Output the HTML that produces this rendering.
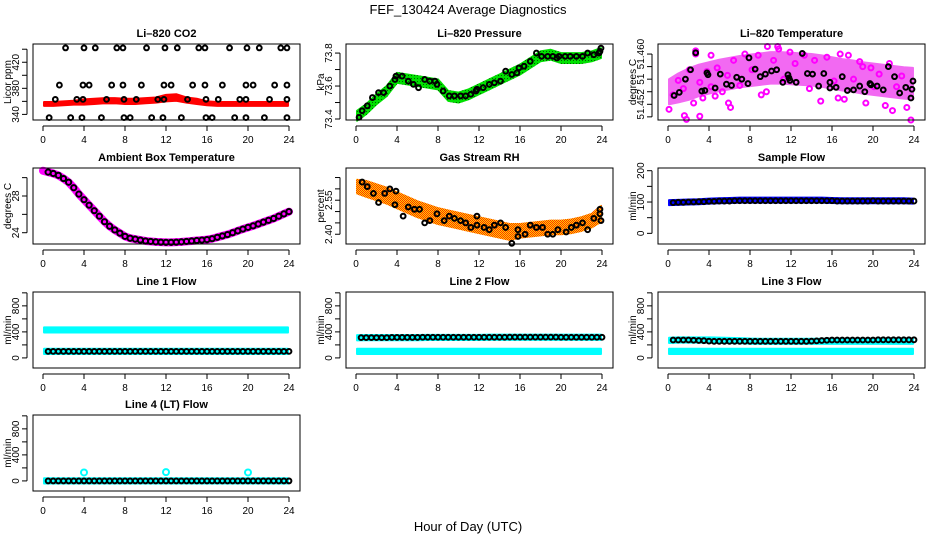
<!DOCTYPE html>
<html><head><meta charset="utf-8">
<style>
html,body{margin:0;padding:0;background:#fff;}
svg{display:block;font-family:"Liberation Sans",sans-serif;}
</style></head>
<body>
<svg id="chart" width="936" height="540" viewBox="0 0 936 540" xmlns="http://www.w3.org/2000/svg">
<defs>
<pattern id="rhPat" width="2" height="2" patternUnits="userSpaceOnUse"><rect width="2" height="2" fill="#ffd000"/><rect width="1" height="1" fill="#ff3000"/><rect x="1" y="1" width="1" height="1" fill="#ff3000"/></pattern>
<pattern id="grPat" width="3" height="3" patternUnits="userSpaceOnUse"><rect width="3" height="3" fill="#00e000"/><rect width="1" height="1" fill="#006000"/></pattern>
</defs>
<text x="468" y="14" text-anchor="middle" font-size="13">FEF_130424  Average Diagnostics</text>
<text x="468" y="531" text-anchor="middle" font-size="13">Hour of Day (UTC)</text>
</svg>
<script>
// ---------- data ----------
const xTicks=[0,4,8,12,16,20,24];
const hourGrid=[0,1,2,3,4,5,6,7,8,9,10,11,12,13,14,15,16,17,18,19,20,21,22,23,24];
const halfHours=[0,0.5,1,1.5,2,2.5,3,3.5,4,4.5,5,5.5,6,6.5,7,7.5,8,8.5,9,9.5,10,10.5,11,11.5,12,12.5,13,13.5,14,14.5,15,15.5,16,16.5,17,17.5,18,18.5,19,19.5,20,20.5,21,21.5,22,22.5,23,23.5,24];

const co2BandCenter=[356,356,357,358,359,360,361,361,360,360,361,362,365,366,362,360,357,356,356,356,356,356,356,356,356];
const co2BandHalf=[3,3,3,3,4,4,4,4,4,4,4,4,5,5,4,4,3,3,3,3,3,3,3,3,3];
const co2Hours=[2.2,4,5.1,7.2,7.8,10.1,11.9,13.1,15.2,15.8,18.2,19.9,21.1,23.2,23.8,1.6,3.9,4.5,6.7,7.8,9.6,11.8,12.5,14.6,15.8,17.5,19.8,20.5,22.6,23.8,1.2,3.3,3.9,6.2,7.9,9.1,11.2,11.8,14.1,15.9,17.1,19.2,19.8,22.1,23.8,0.6,2.7,3.8,5.7,7.9,8.5,10.6,11.7,13.5,15.9,16.5,18.7,19.8,21.6,23.8];
const co2Vals=[442,442,442,442,442,442,442,442,442,442,442,442,442,442,442,385,385,385,385,385,385,385,385,385,385,385,385,385,385,385,363,363,363,363,363,363,363,363,363,363,363,363,363,363,363,335,335,335,335,335,335,335,335,335,335,335,335,335,335,335];

const presCenter=[73.42,73.46,73.52,73.57,73.65,73.64,73.63,73.62,73.61,73.54,73.53,73.55,73.58,73.61,73.64,73.67,73.70,73.74,73.78,73.79,73.77,73.77,73.77,73.78,73.80];
const presHours=[0.3,0.6,1.1,1.6,2.2,2.7,3.3,3.8,3.9,4.5,5.1,5.6,6.1,6.7,7.2,7.7,7.9,8.5,9.1,9.6,10.2,10.7,11.2,11.7,11.8,12.4,13,13.5,14.1,14.6,15.2,15.7,15.9,16.4,17,17.6,18.1,18.7,19.2,19.6,19.8,20.4,20.9,21.5,22.1,22.6,23.2,23.7,23.8,23.9];
const presVals=[73.41,73.45,73.48,73.53,73.56,73.56,73.60,73.64,73.66,73.66,73.63,73.61,73.59,73.64,73.63,73.63,73.61,73.57,73.54,73.54,73.54,73.54,73.55,73.57,73.58,73.59,73.61,73.62,73.63,73.69,73.67,73.68,73.71,73.72,73.75,73.80,73.78,73.78,73.78,73.77,73.78,73.78,73.78,73.78,73.78,73.80,73.79,73.80,73.81,73.83];

const tempBandCenter=[51.4540,51.4546,51.4552,51.4558,51.4562,51.4566,51.4569,51.4572,51.4574,51.4576,51.4578,51.4578,51.4577,51.4576,51.4575,51.4573,51.4570,51.4567,51.4565,51.4562,51.4560,51.4558,51.4556,51.4554,51.4553];
const tempBandHalf=[0.002,0.0023,0.0025,0.0025,0.0025,0.0025,0.0025,0.0025,0.0025,0.0025,0.0025,0.0025,0.0025,0.0025,0.0025,0.0025,0.0025,0.0025,0.0025,0.0025,0.0025,0.0025,0.0025,0.0025,0.0025];
const tempMagHours=[0.1,0.5,1.0,1.5,1.6,2.1,2.5,2.7,3.1,3.4,3.8,4.2,4.6,4.8,5.3,5.8,6.1,6.4,7.0,7.5,8.2,8.8,9.1,9.7,10.3,10.8,11.3,11.9,12.4,13.3,13.8,14.3,14.9,15.5,16.2,16.8,17.2,17.6,18.1,18.7,19.3,19.8,20.1,20.6,21.2,21.6,22.3,22.8,23.3,23.7,2.7,4.2,9.6,10.7,16.6,1.8,3.1,5.9,19.0,21.9];
const tempMagVals=[51.4512,51.4535,51.4558,51.4545,51.4502,51.4575,51.4522,51.4600,51.4555,51.4530,51.4572,51.4598,51.4533,51.4578,51.4540,51.4566,51.4515,51.4590,51.4550,51.4600,51.4575,51.4598,51.4535,51.4612,51.4590,51.4608,51.4560,51.4603,51.4585,51.4598,51.4545,51.4590,51.4525,51.4595,51.4557,51.4600,51.4528,51.4598,51.4560,51.4588,51.4522,51.4578,51.4548,51.4568,51.4518,51.4585,51.4548,51.4565,51.4515,51.4495,51.4605,51.4548,51.4540,51.4612,51.4530,51.4496,51.4501,51.4522,51.4580,51.4510];
const tempBlkHours=[0.6,1.1,1.7,2.2,2.7,3.3,3.6,3.8,3.9,4.6,5.1,5.7,6.2,6.7,7.2,7.8,7.9,8.5,9.0,9.5,10.1,10.6,11.2,11.7,11.8,11.9,12.5,13.1,13.6,14.1,14.7,15.2,15.8,15.8,16.4,17.0,17.5,18.1,18.7,19.2,19.7,19.8,20.4,21.0,21.5,22.1,22.6,23.2,23.7,23.8,23.9];
const tempBlkVals=[51.4534,51.4539,51.4560,51.4575,51.4602,51.4541,51.4542,51.4570,51.4567,51.4546,51.4568,51.4552,51.4550,51.4563,51.4560,51.4553,51.4594,51.4576,51.4564,51.4568,51.4573,51.4575,51.4555,51.4567,51.4562,51.4558,51.4555,51.4601,51.4569,51.4568,51.4549,51.4569,51.4546,51.4555,51.4547,51.4564,51.4542,51.4543,51.4549,51.4540,51.4553,51.4551,51.4549,51.4543,51.4580,51.4564,51.4538,51.4547,51.4530,51.4544,51.4557];

const ambientVals=[30.75,30.6,30.45,30.25,29.9,29.5,28.9,28.2,27.6,27.0,26.4,25.8,25.2,24.7,24.3,23.95,23.6,23.4,23.3,23.2,23.1,23.05,23.0,22.97,22.95,22.95,22.97,23.0,23.05,23.1,23.15,23.2,23.25,23.35,23.5,23.65,23.8,24.0,24.2,24.4,24.58,24.75,24.95,25.15,25.35,25.55,25.8,26.05,26.3];

const rhBandCenter=[2.61,2.60,2.585,2.57,2.55,2.53,2.51,2.495,2.48,2.47,2.46,2.45,2.44,2.43,2.42,2.41,2.415,2.42,2.425,2.43,2.43,2.435,2.445,2.46,2.49];
const rhBandHalf=[0.03,0.035,0.035,0.035,0.035,0.035,0.035,0.035,0.035,0.035,0.035,0.035,0.035,0.035,0.035,0.035,0.03,0.03,0.03,0.03,0.03,0.03,0.03,0.03,0.035];
const rhHours=[0.6,1.1,1.7,2.2,2.8,3.3,3.9,3.8,4.6,5.1,5.7,6.2,6.7,7.2,7.9,8.6,9.1,9.6,10.2,10.7,11.2,11.8,11.8,12.5,13.0,13.5,14.1,14.6,15.2,15.8,15.8,16.5,17.0,17.6,18.2,18.7,19.2,19.7,20.5,21.0,21.5,22.1,22.6,23.2,23.8,23.8,23.9];
const rhVals=[2.63,2.61,2.58,2.54,2.58,2.60,2.59,2.53,2.48,2.52,2.51,2.51,2.45,2.46,2.49,2.46,2.48,2.47,2.46,2.45,2.43,2.44,2.48,2.43,2.42,2.44,2.45,2.43,2.36,2.39,2.42,2.40,2.44,2.43,2.43,2.40,2.40,2.42,2.41,2.43,2.44,2.45,2.42,2.47,2.49,2.51,2.46];

const sampleBand=[98,99,100,101,103,104,105,106,106,106,106,106,106,106,106,106,105,104,104,104,104,104,104,104,103];
const sampleVals=[97,98,99,99,100,100,101,101,102,102,103,103,103,104,104,104,104,104,104,104,104,104,104,104,104,104,104,104,104,104,104,104,104,103,103,103,103,103,103,103,104,103,103,103,103,103,103,103,103];

const line1Cyan=[430,430,430,430,430,430,430,430,430,430,430,430,430,430,430,430,430,430,430,430,430,430,430,430,430];
const line1Black=[100,100,100,100,100,100,100,100,100,100,100,100,100,100,100,100,100,100,100,100,100,100,100,100,100,100,100,100,100,100,100,100,100,100,100,100,100,100,100,100,100,100,100,100,100,100,100,100,100];
const line2Cyan=[100,100,100,100,100,100,100,100,100,100,100,100,100,100,100,100,100,100,100,100,100,100,100,100,100];
const line2Black=[310,312,312,312,312,312,312,315,315,315,315,315,315,318,318,318,318,318,318,318,318,318,318,318,318,318,318,318,318,318,320,320,320,320,320,320,320,320,320,320,318,318,318,318,318,318,318,318,318];
const line3Cyan=[100,100,100,100,100,100,100,100,100,100,100,100,100,100,100,100,100,100,100,100,100,100,100,100,100];
const line3Black=[270,275,275,275,275,272,268,265,258,255,255,255,255,255,255,255,255,255,255,255,255,255,255,255,255,255,255,255,258,262,268,272,275,275,275,275,275,275,275,275,275,278,278,278,278,278,278,278,278];
const line4Cyan=[0,0,0,0,0,0,0,0,0,0,0,0,0,0,0,0,0,0,0,0,0,0,0,0,0];
const line4Black=[0,0,0,0,0,0,0,0,0,0,0,0,0,0,0,0,0,0,0,0,0,0,0,0,0,0,0,0,0,0,0,0,0,0,0,0,0,0,0,0,0,0,0,0,0,0,0,0,0];
const line4SpikeHours=[4,12,20];
const line4SpikeVals=[130,135,130];

// ---------- drawing ----------
const svg=document.getElementById('chart');
const NS='http://www.w3.org/2000/svg';
function mk(tag,attrs,parent){const e=document.createElementNS(NS,tag);for(const k in attrs)e.setAttribute(k,attrs[k]);(parent||svg).appendChild(e);return e;}

const colX=[33,346,658], rowY=[44,168,292,415], W=267, H=76;

function makePanel(col,row,title,ylab,lo,hi,ticks,labels,name){
  const x0=colX[col],y0=rowY[row];
  const g=mk('g',{});
  
  
  const sx=h=>x0+10+h*(246/24);
  const sy=v=>y0+H-(v-lo)/(hi-lo)*H;
  const plot=mk('g',{},g);
  
  
  const box=mk('rect',{x:x0,y:y0,width:W,height:H,fill:'none',stroke:'#000','stroke-width':1},g);
  
  
  const t=mk('text',{x:x0+W/2,y:y0-7,'text-anchor':'middle','font-size':11,'font-weight':'bold'},g);
  t.textContent=title;
  
  
  const yl=mk('text',{x:0,y:0,'text-anchor':'middle','font-size':10,transform:`translate(${x0-22},${y0+H/2}) rotate(-90)`},g);
  yl.textContent=ylab;
  
  
  const xa=mk('g',{},g);
  
  
  mk('line',{x1:sx(xTicks[0]),x2:sx(xTicks[xTicks.length-1]),y1:y0+H+6,y2:y0+H+6,stroke:'#000'},xa);
  xTicks.forEach(v=>{
    mk('line',{x1:sx(v),x2:sx(v),y1:y0+H+6,y2:y0+H+11,stroke:'#000'},xa);
    const tl=mk('text',{x:sx(v),y:y0+H+23,'text-anchor':'middle','font-size':10},xa);
    tl.textContent=v;
    
    
  });
  const ya=mk('g',{},g);
  
  
  mk('line',{x1:x0-6,x2:x0-6,y1:sy(ticks[0]),y2:sy(ticks[ticks.length-1]),stroke:'#000'},ya);
  ticks.forEach((v,i)=>{
    mk('line',{x1:x0-6,x2:x0-11,y1:sy(v),y2:sy(v),stroke:'#000'},ya);
    if(labels[i]){
      const tl=mk('text',{x:0,y:0,'text-anchor':'middle','font-size':10,transform:`translate(${x0-14},${sy(v)}) rotate(-90)`},ya);
      tl.textContent=labels[i];
      
      
    }
  });
  return {plot,sx,sy,name};
}
function band(p,hours,center,half,fill,nm,op){
  let top=hours.map((h,i)=>p.sx(h)+','+p.sy(center[i]+half[i]));
  let bot=hours.map((h,i)=>p.sx(h)+','+p.sy(center[i]-half[i])).reverse();
  const e=mk('polygon',{points:top.concat(bot).join(' '),fill:fill,stroke:fill,'stroke-width':2,'stroke-linejoin':'round','opacity':op||1},p.plot);
  
  
}
function pts(p,hours,vals,color,nm,r,sw){
  const g=mk('g',{},p.plot);
  
  
  hours.forEach((h,i)=>{
    const c=mk('circle',{cx:p.sx(h),cy:p.sy(vals[i]),r:r||2.4,fill:'none',stroke:color,'stroke-width':sw||2},g);
    
    
  });
}
const gridEnds=hourGrid.map((h,i)=>i===0?0.1:(i===24?23.9:h));
function flat(p,vals,color,nm){
  band(p,gridEnds.slice(0,vals.length),vals,vals.map(()=>40),color,nm);
}

// Li-820 CO2
let p=makePanel(0,0,'Li\u2013820 CO2','Licor ppm',331.4,448,[340,360,380,400,420,440],['340','','380','','420',''],'co2');
band(p,gridEnds,co2BandCenter,co2BandHalf,'#ff0000','co2-band');
pts(p,co2Hours,co2Vals,'#000','co2-averages');

// Pressure
p=makePanel(1,0,'Li\u2013820 Pressure','kPa',73.394,73.855,[73.4,73.5,73.6,73.7,73.8],['73.4','','73.6','','73.8'],'pressure');
band(p,gridEnds,presCenter,presCenter.map(()=>0.03),'url(#grPat)','pressure-band');
pts(p,presHours,presVals,'#000','pressure-averages');

// Temperature
p=makePanel(2,0,'Li\u2013820 Temperature','degrees C',51.4495,51.4616,[51.450,51.452,51.454,51.456,51.458,51.460],['','51.452','','51','','51.460'],'li820-temperature');
band(p,gridEnds,tempBandCenter,tempBandHalf,'#f050f0','temperature-band',0.85);
pts(p,tempMagHours,tempMagVals,'#ff00ff','temperature-points',2.5,2);
pts(p,tempBlkHours,tempBlkVals,'#000','temperature-averages');

// Ambient
p=makePanel(0,1,'Ambient Box Temperature','degrees C',22.77,31.05,[24,26,28,30],['24','','28',''],'ambient');
{
  const pl=mk('polyline',{points:halfHours.map((h,i)=>p.sx(h)+','+p.sy(ambientVals[i])).join(' '),fill:'none',stroke:'#ff00ff','stroke-width':8,'stroke-linecap':'round','stroke-linejoin':'round'},p.plot);
  
  
}
pts(p,halfHours.slice(1),ambientVals.slice(1),'#000','ambient-averages',2.6,2);

// RH
p=makePanel(1,1,'Gas Stream RH','percent',2.357,2.692,[2.40,2.45,2.50,2.55,2.60,2.65],['2.40','','','2.55','',''],'rh');
band(p,gridEnds,rhBandCenter,rhBandHalf,'url(#rhPat)','rh-band');
pts(p,rhHours,rhVals,'#000','rh-averages');

// Sample flow
p=makePanel(2,1,'Sample Flow','ml/min',-34,208.6,[0,50,100,150,200],['0','','100','','200'],'sample-flow');
band(p,gridEnds,sampleBand,sampleBand.map(()=>8),'#0000ff','sample-flow-band');
pts(p,halfHours.slice(1),sampleVals.slice(1),'#000','sample-flow-averages');

// line flows
const fT=[0,200,400,600,800,1000], fL=['0','','400','','800',''];
p=makePanel(0,2,'Line 1 Flow','ml/min',-155,1013,fT,fL,'line1');
flat(p,line1Cyan,'#00ffff','line1-cyan-band');
flat(p,line1Black,'#00ffff','line1-cyan-low');
pts(p,halfHours.slice(1),line1Black.slice(1),'#000','line1-averages');

p=makePanel(1,2,'Line 2 Flow','ml/min',-155,1013,fT,fL,'line2');
flat(p,line2Cyan,'#00ffff','line2-cyan-band');
flat(p,line2Black,'#00ffff','line2-cyan-high');
pts(p,halfHours.slice(1),line2Black.slice(1),'#000','line2-averages');

p=makePanel(2,2,'Line 3 Flow','ml/min',-155,1013,fT,fL,'line3');
flat(p,line3Cyan,'#00ffff','line3-cyan-band');
flat(p,line3Black,'#00ffff','line3-cyan-high');
pts(p,halfHours.slice(1),line3Black.slice(1),'#000','line3-averages');

p=makePanel(0,3,'Line 4 (LT) Flow','ml/min',-155,1013,fT,fL,'line4');
flat(p,line4Cyan,'#00ffff','line4-cyan-band');
pts(p,line4SpikeHours,line4SpikeVals,'#00ffff','line4-spikes',3,2);
pts(p,halfHours.slice(1),line4Black.slice(1),'#000','line4-averages');
</script>
</body></html>
